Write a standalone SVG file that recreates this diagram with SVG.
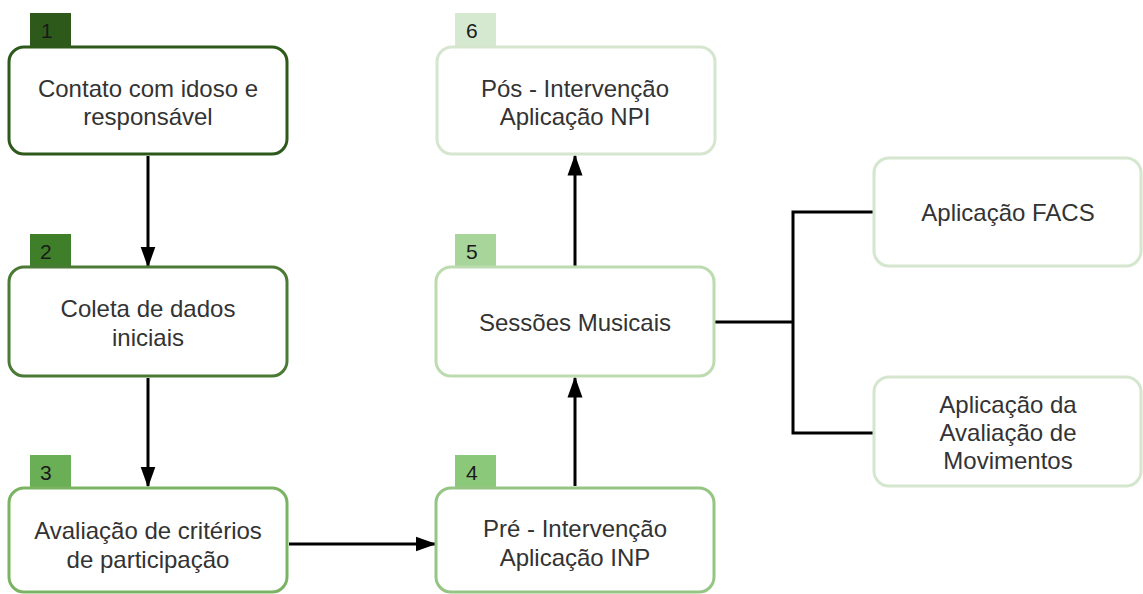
<svg xmlns="http://www.w3.org/2000/svg" width="1143" height="594" viewBox="0 0 1143 594">
<defs>
<style>
.box{fill:#ffffff;stroke-width:3}
.t{font-family:"Liberation Sans",Arial,sans-serif;font-size:24px;fill:#333333;text-anchor:middle}
.n{font-family:"Liberation Sans",Arial,sans-serif;font-size:21px;fill:#1a1a1a}
.c{fill:none;stroke:#000000;stroke-width:3}
</style>
<marker id="arr" viewBox="0 0 14 10" refX="13" refY="5" markerWidth="7" markerHeight="5.2" markerUnits="strokeWidth" orient="auto">
<path d="M0,0 L14,5 L0,10 z" fill="#000000"/>
</marker>
</defs>
<rect width="1143" height="594" fill="#ffffff"/>
<g id="connectors">
<line class="c" x1="148" y1="156" x2="148" y2="266" marker-end="url(#arr)"/>
<line class="c" x1="148" y1="378" x2="148" y2="486" marker-end="url(#arr)"/>
<line class="c" x1="289" y1="544" x2="435" y2="544" marker-end="url(#arr)"/>
<line class="c" x1="575" y1="486" x2="575" y2="378" marker-end="url(#arr)"/>
<line class="c" x1="575" y1="266" x2="575" y2="156" marker-end="url(#arr)"/>
<polyline class="c" points="715,322 793,322"/>
<polyline class="c" points="873,212 793,212 793,433 873,433"/>
</g>
<g id="node1">
<rect x="30" y="13" width="41" height="34" fill="#2d5a1b"/>
<rect class="box" x="9" y="47" width="278" height="107" rx="15" stroke="#2d5a1b"/>
<text class="n" x="41" y="38">1</text>
<text class="t" x="148" y="97" fill="#3d4a3d">Contato com idoso e</text>
<text class="t" x="148" y="125" fill="#3d4a3d">responsável</text>
</g>
<g id="node2">
<rect x="30" y="234" width="41" height="33" fill="#3f7f2a"/>
<rect class="box" x="9" y="267" width="278" height="109" rx="15" stroke="#4a7a35"/>
<text class="n" x="40" y="259">2</text>
<text class="t" x="148" y="317">Coleta de dados</text>
<text class="t" x="148" y="346">iniciais</text>
</g>
<g id="node3">
<rect x="30" y="455" width="41" height="33" fill="#6aaf55"/>
<rect class="box" x="9" y="488" width="278" height="104" rx="15" stroke="#7ab361"/>
<text class="n" x="40" y="480">3</text>
<text class="t" x="148" y="539">Avaliação de critérios</text>
<text class="t" x="148" y="568">de participação</text>
</g>
<g id="node4">
<rect x="455" y="455" width="41" height="33" fill="#8cc87a"/>
<rect class="box" x="436" y="488" width="278" height="104" rx="15" stroke="#94c583"/>
<text class="n" x="466" y="480">4</text>
<text class="t" x="575" y="537">Pré - Intervenção</text>
<text class="t" x="575" y="566">Aplicação INP</text>
</g>
<g id="node5">
<rect x="455" y="234" width="41" height="33" fill="#a8d59a"/>
<rect class="box" x="436" y="267" width="278" height="109" rx="15" stroke="#bcdcb0"/>
<text class="n" x="466" y="259">5</text>
<text class="t" x="575" y="331">Sessões Musicais</text>
</g>
<g id="node6">
<rect x="455" y="13" width="41" height="34" fill="#d5e8d0"/>
<rect class="box" x="437" y="47" width="278" height="107" rx="15" stroke="#d5e6cf"/>
<text class="n" x="466" y="38">6</text>
<text class="t" x="575" y="97">Pós - Intervenção</text>
<text class="t" x="575" y="125">Aplicação NPI</text>
</g>
<g id="node7">
<rect class="box" x="874" y="158" width="267" height="108" rx="15" stroke="#d5e6cf"/>
<text class="t" x="1008" y="221">Aplicação FACS</text>
</g>
<g id="node8">
<rect class="box" x="874" y="377" width="267" height="109" rx="15" stroke="#d5e6cf"/>
<text class="t" x="1008" y="413">Aplicação da</text>
<text class="t" x="1008" y="441">Avaliação de</text>
<text class="t" x="1008" y="469">Movimentos</text>
</g>
</svg>
